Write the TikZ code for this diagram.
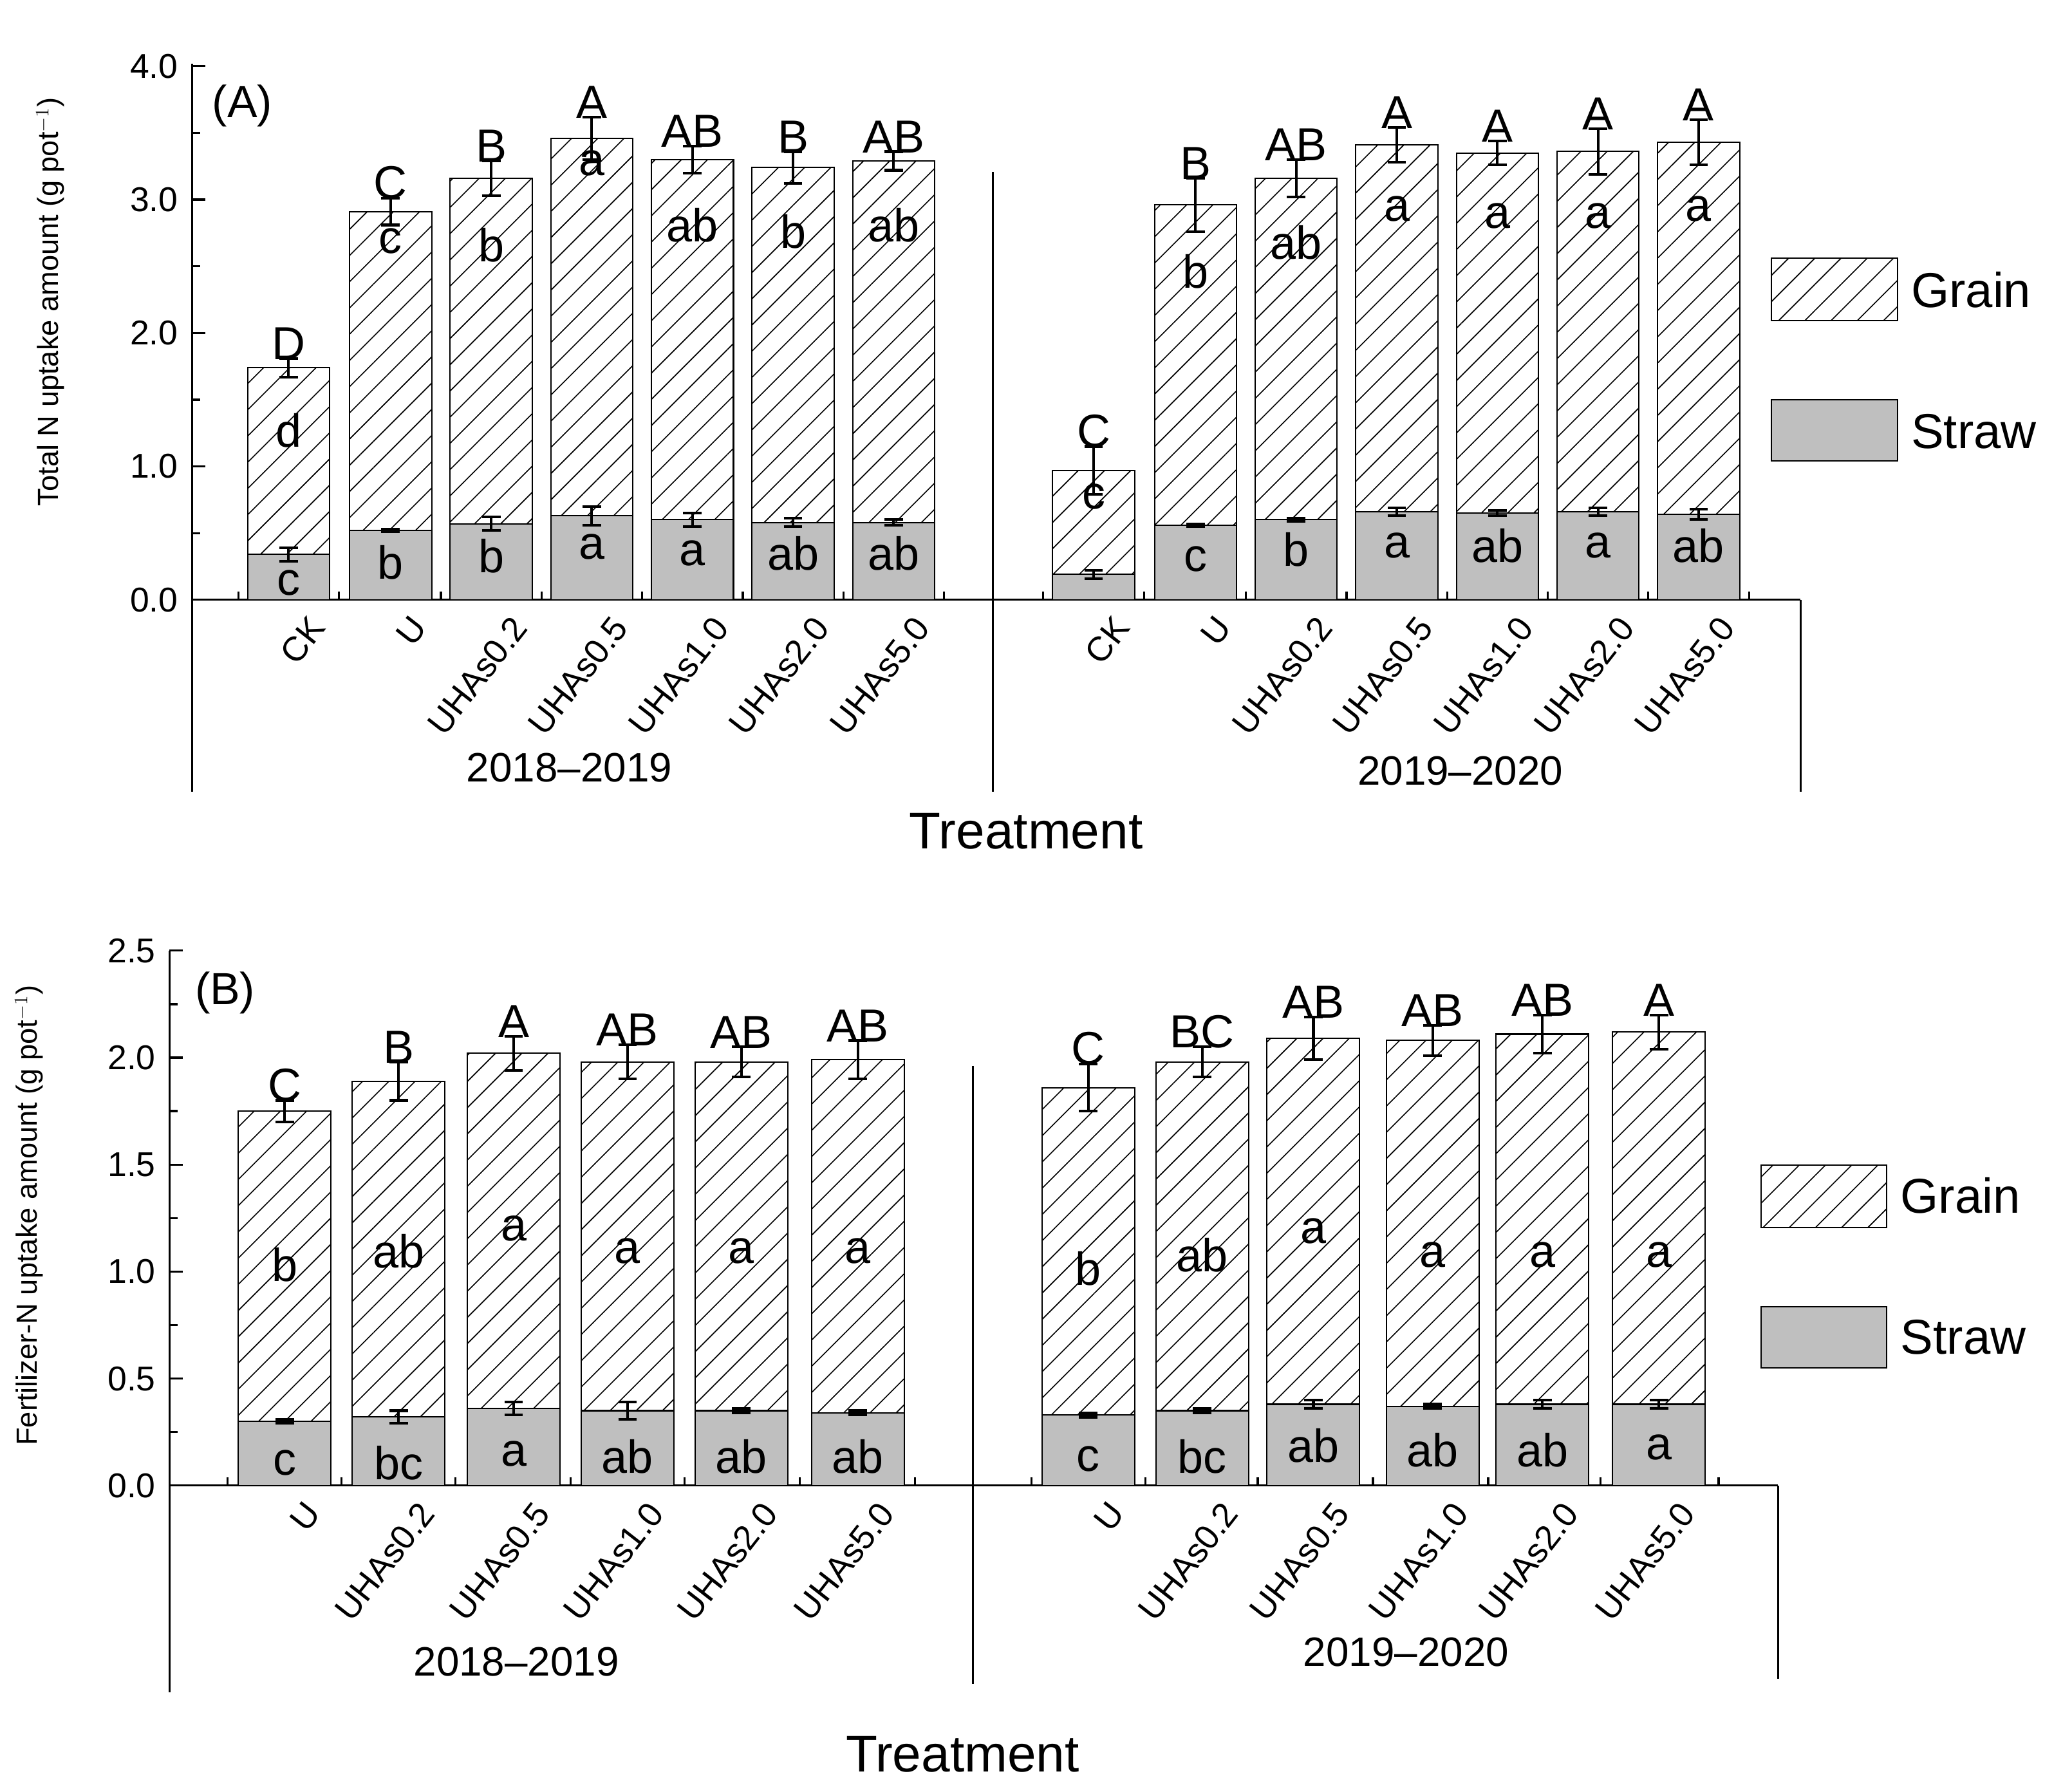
\documentclass[tikz,border=0pt]{standalone}
\usepackage{fontspec}
\setmainfont{Liberation Sans}
\usetikzlibrary{patterns.meta}
\tikzset{
 grainf/.style={draw=black,line width=1pt,pattern={Lines[angle=45,distance=14pt,line width=0.8pt]}},
 strawf/.style={draw=black,line width=1pt,fill=black!25},
 ax/.style={line width=1.6pt},
 eb/.style={line width=2pt},
 lt/.style={font=\fontsize{35}{37}\selectfont,inner sep=1pt},
 tl/.style={font=\fontsize{26}{28}\selectfont},
}
\newcommand\drbar[9]{% x, halfw, scale, y0, tot, terr, straw, serr
 \fill[white] ({#1-#2},{#4}) rectangle ({#1+#2},{#4-#5*#3});
 \draw[grainf] ({#1-#2},{#4-#7*#3}) rectangle ({#1+#2},{#4-#5*#3});
 \draw[strawf] ({#1-#2},{#4}) rectangle ({#1+#2},{#4-#7*#3});
 \draw[eb] ({#1},{#4-(#5-#6)*#3}) -- ({#1},{#4-(#5+#6)*#3});
 \draw[eb] ({#1-7},{#4-(#5-#6)*#3}) -- ({#1+7},{#4-(#5-#6)*#3});
 \draw[eb] ({#1-7},{#4-(#5+#6)*#3}) -- ({#1+7},{#4-(#5+#6)*#3});
 \draw[eb] ({#1},{#4-(#7-#8)*#3}) -- ({#1},{#4-(#7+#8)*#3});
 \draw[eb] ({#1-7},{#4-(#7-#8)*#3}) -- ({#1+7},{#4-(#7-#8)*#3});
 \draw[eb] ({#1-7},{#4-(#7+#8)*#3}) -- ({#1+7},{#4-(#7+#8)*#3});
 \node[lt,anchor=south] at ({#1},{#4-(#5+#6)*#3+2}) {#9};
}
\begin{document}
\begin{tikzpicture}[x=1pt,y=-1pt]
\useasboundingbox (0,0) rectangle (1565,1348);
% ================= Panel A
\def\sA{100.75}
\draw[ax] (145,48) -- (145,598);
\draw[ax] (145,453) -- (1360,453);
\draw[ax] (1360,453) -- (1360,598);
\draw[ax] (750,130) -- (750,598);
\foreach \v in {0,1,2,3,4}{
 \draw[ax] (145,{453-\v*\sA}) -- (155,{453-\v*\sA});
 \node[tl,anchor=east] at (138,{453-\v*\sA}) {\v.0};}
\foreach \v in {0.5,1.5,2.5,3.5}{\draw[ax] (145,{453-\v*\sA}) -- (151,{453-\v*\sA});}
\node[font=\fontsize{22}{24}\selectfont,rotate=90] at (38,228) {Total N uptake amount (g pot$^{-1}$)};
\node[font=\fontsize{34}{36}\selectfont] at (183,80) {(A)};
\foreach \x/\t/\te/\s/\se/\L in {
 218/1.74/0.07/0.34/0.05/D, 295/2.91/0.10/0.52/0.01/C, 371/3.16/0.13/0.57/0.05/B,
 447/3.46/0.16/0.63/0.07/A, 523/3.30/0.10/0.60/0.05/AB, 599/3.24/0.12/0.58/0.03/B,
 675/3.29/0.07/0.58/0.02/AB,
 826/0.97/0.18/0.19/0.03/C, 903/2.96/0.20/0.56/0.01/B, 979/3.16/0.14/0.60/0.01/AB,
 1055/3.41/0.13/0.66/0.03/A, 1131/3.35/0.09/0.65/0.02/A, 1207/3.36/0.17/0.66/0.03/A,
 1283/3.43/0.17/0.64/0.04/A}{
 \drbar{\x}{31}{\sA}{453}{\t}{\te}{\s}{\se}{\L}}
\foreach \x/\y/\l in {218/325/d,295/182/c,371/185/b,447/123/a,523/170/ab,599/175/b,675/170/ab,
 826/375/c,903/205/b,979/183/ab,1055/158/a,1131/163/a,1207/163/a,1283/158/a,
 218/440/c,295/425/b,371/420/b,447/413/a,523/418/a,599/418/ab,675/418/ab,
 903/422/c,979/415/b,1055/412/a,1131/412/ab,1207/412/a,1283/412/ab}{
 \node[lt] at (\x,\y) {\l};}
\foreach \x/\l in {218/CK,295/U,371/UHAs0.2,447/UHAs0.5,523/UHAs1.0,599/UHAs2.0,675/UHAs5.0,
 826/CK,903/U,979/UHAs0.2,1055/UHAs0.5,1131/UHAs1.0,1207/UHAs2.0,1283/UHAs5.0}{
 \node[tl,anchor=north east,rotate=52,inner sep=1pt] at (\x+14,462) {\l};}
\foreach \x in {180,256,333,409,485,561,637,713,788,864,941,1017,1093,1169,1245,1321}{
 \draw[ax] (\x,453) -- (\x,447);}
\node[font=\fontsize{31}{33}\selectfont] at (430,580) {2018–2019};
\node[font=\fontsize{31}{33}\selectfont] at (1103,582) {2019–2020};
\node[font=\fontsize{39}{41}\selectfont] at (775,628) {Treatment};
\draw[grainf] (1338,195) rectangle (1433,242);
\node[font=\fontsize{37}{39}\selectfont,anchor=west] at (1440,219) {Grain};
\draw[strawf] (1338,302) rectangle (1433,348);
\node[font=\fontsize{37}{39}\selectfont,anchor=west] at (1440,326) {Straw};
% ================= Panel B
\def\sB{161.6}
\draw[ax] (128,718) -- (128,1278);
\draw[ax] (128,1122) -- (1343,1122);
\draw[ax] (1343,1122) -- (1343,1268);
\draw[ax] (735,805) -- (735,1272);
\foreach \v in {0.0,0.5,1.0,1.5,2.0,2.5}{
 \draw[ax] (128,{1122-\v*\sB}) -- (138,{1122-\v*\sB});
 \node[tl,anchor=east] at (121,{1122-\v*\sB}) {\v};}
\foreach \v in {0.25,0.75,1.25,1.75,2.25}{\draw[ax] (128,{1122-\v*\sB}) -- (134,{1122-\v*\sB});}
\node[font=\fontsize{22}{24}\selectfont,rotate=90] at (22,918) {Fertilizer-N uptake amount (g pot$^{-1}$)};
\node[font=\fontsize{34}{36}\selectfont] at (170,750) {(B)};
\foreach \x/\t/\te/\s/\se/\L in {
 215/1.75/0.05/0.30/0.01/C, 301/1.89/0.09/0.32/0.03/B, 388/2.02/0.08/0.36/0.03/A,
 474/1.98/0.08/0.35/0.04/AB, 560/1.98/0.07/0.35/0.01/AB, 648/1.99/0.09/0.34/0.01/AB,
 822/1.86/0.11/0.33/0.01/C, 908/1.98/0.07/0.35/0.01/BC, 992/2.09/0.10/0.38/0.02/AB,
 1082/2.08/0.07/0.37/0.01/AB, 1165/2.11/0.09/0.38/0.02/AB, 1253/2.12/0.08/0.38/0.02/A}{
 \drbar{\x}{35}{\sB}{1122}{\t}{\te}{\s}{\se}{\L}}
\foreach \x/\y/\l in {215/955/b,301/945/ab,388/928/a,474/945/a,560/945/a,648/945/a,
 822/958/b,908/948/ab,992/930/a,1082/948/a,1165/948/a,1253/948/a,
 215/1105/c,301/1105/bc,388/1098/a,474/1100/ab,560/1100/ab,648/1100/ab,
 822/1102/c,908/1100/bc,992/1092/ab,1082/1095/ab,1165/1095/ab,1253/1093/a}{
 \node[lt] at (\x,\y) {\l};}
\foreach \x/\l in {215/U,301/UHAs0.2,388/UHAs0.5,474/UHAs1.0,560/UHAs2.0,648/UHAs5.0,
 822/U,908/UHAs0.2,992/UHAs0.5,1082/UHAs1.0,1165/UHAs2.0,1253/UHAs5.0}{
 \node[tl,anchor=north east,rotate=52,inner sep=1pt] at (\x+14,1131) {\l};}
\foreach \x in {172,258,344,431,517,604,691,779,865,950,1037,1124,1209,1298}{
 \draw[ax] (\x,1122) -- (\x,1116);}
\node[font=\fontsize{31}{33}\selectfont] at (390,1255) {2018–2019};
\node[font=\fontsize{31}{33}\selectfont] at (1062,1248) {2019–2020};
\node[font=\fontsize{39}{41}\selectfont] at (727,1325) {Treatment};
\draw[grainf] (1330,880) rectangle (1425,927);
\node[font=\fontsize{37}{39}\selectfont,anchor=west] at (1432,903) {Grain};
\draw[strawf] (1330,987) rectangle (1425,1033);
\node[font=\fontsize{37}{39}\selectfont,anchor=west] at (1432,1010) {Straw};
\end{tikzpicture}
\end{document}
